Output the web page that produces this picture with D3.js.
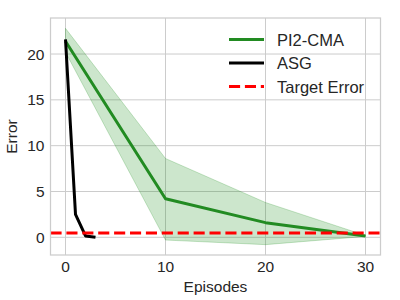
<!DOCTYPE html>
<html>
<head>
<meta charset="utf-8">
<script src="https://cdn.jsdelivr.net/npm/d3@7"></script>
<style>
  body { margin: 0; background: #fff; }
  text { font-family: "Liberation Sans", Arial, sans-serif; fill: #262626; }
</style>
</head>
<body>
<div id="chart"></div>
<script>
// PI2-CMA mean and spread
const cmaEpisodes = [0, 10, 20, 30];
const cmaMean = [21.4, 4.2, 1.6, 0.15];
const cmaUpper = [22.8, 8.6, 3.8, 0.2];
const cmaLower = [20.2, -0.3, -0.8, 0.1];

// ASG
const asgEpisodes = [0, 1, 2, 3];
const asgError = [21.6, 2.5, 0.15, 0.0];

const targetError = 0.47;

const xTicks = [0, 10, 20, 30];
const yTicks = [0, 5, 10, 15, 20];

const width = 400;
const height = 300;
const margin = { top: 18, right: 19.5, bottom: 45, left: 50.5 };

const svg = d3
  .select('#chart')
  .append('svg')
  .attr('width', width)
  .attr('height', height);

const x = d3.scaleLinear().domain([-1.5, 31.5]).range([margin.left, width - margin.right]);
const y = d3.scaleLinear().domain([-1.93, 23.93]).range([height - margin.bottom, margin.top]);

// grid
svg.append('g')
  .selectAll('line')
  .data(xTicks)
  .enter()
  .append('line')
  .attr('x1', (d) => x(d)).attr('x2', (d) => x(d))
  .attr('y1', y.range()[0]).attr('y2', y.range()[1])
  .style('stroke', '#cccccc').style('stroke-width', 1);

svg.append('g')
  .selectAll('line')
  .data(yTicks)
  .enter()
  .append('line')
  .attr('x1', x.range()[0]).attr('x2', x.range()[1])
  .attr('y1', (d) => y(d)).attr('y2', (d) => y(d))
  .style('stroke', '#cccccc').style('stroke-width', 1);

svg.append('clipPath').attr('id', 'plot')
  .append('rect')
  .attr('x', x.range()[0]).attr('y', y.range()[1])
  .attr('width', x.range()[1] - x.range()[0])
  .attr('height', y.range()[0] - y.range()[1]);

const plot = svg.append('g').attr('clip-path', 'url(#plot)');

// band
const band = cmaEpisodes.map((e, i) => ({ e, lo: cmaLower[i], hi: cmaUpper[i] }));
plot.append('path')
  .datum(band)
  .attr('d', d3.area().x((d) => x(d.e)).y0((d) => y(d.lo)).y1((d) => y(d.hi)))
  .style('fill', 'green').style('fill-opacity', 0.2)
  .style('stroke', 'green').style('stroke-opacity', 0.2);

const line = d3.line().x((d) => x(d[0])).y((d) => y(d[1]));

plot.append('path')
  .datum(cmaEpisodes.map((e, i) => [e, cmaMean[i]]))
  .attr('d', line)
  .style('fill', 'none').style('stroke', '#228b22').style('stroke-width', 3)
  .style('stroke-linejoin', 'round');

plot.append('path')
  .datum(asgEpisodes.map((e, i) => [e, asgError[i]]))
  .attr('d', line)
  .style('fill', 'none').style('stroke', '#000').style('stroke-width', 3)
  .style('stroke-linejoin', 'round');

plot.append('line')
  .attr('x1', x.range()[0]).attr('x2', x.range()[1])
  .attr('y1', y(targetError)).attr('y2', y(targetError))
  .style('stroke', 'red').style('stroke-width', 3)
  .style('stroke-dasharray', '11.1,4.8');

// frame
svg.append('rect')
  .attr('x', x.range()[0]).attr('y', y.range()[1])
  .attr('width', x.range()[1] - x.range()[0])
  .attr('height', y.range()[0] - y.range()[1])
  .style('fill', 'none').style('stroke', '#cccccc').style('stroke-width', 1.25);

// tick labels
svg.append('g')
  .selectAll('text')
  .data(xTicks)
  .enter()
  .append('text')
  .attr('x', (d) => x(d))
  .attr('y', 272)
  .attr('text-anchor', 'middle')
  .style('font-size', '15.5px')
  .text((d) => d);

svg.append('g')
  .selectAll('text')
  .data(yTicks)
  .enter()
  .append('text')
  .attr('x', 44.5)
  .attr('y', (d) => y(d) + 5.5)
  .attr('text-anchor', 'end')
  .style('font-size', '15.5px')
  .text((d) => d);

svg.append('text')
  .attr('x', (x.range()[0] + x.range()[1]) / 2)
  .attr('y', 292)
  .attr('text-anchor', 'middle')
  .style('font-size', '15.5px')
  .text('Episodes');

svg.append('text')
  .attr('transform', `translate(17,${(y.range()[0] + y.range()[1]) / 2}) rotate(-90)`)
  .attr('text-anchor', 'middle')
  .style('font-size', '15.5px')
  .text('Error');

// legend
const legendNames = ['PI2-CMA', 'ASG', 'Target Error'];
const legendColors = ['#228b22', '#000', 'red'];
const legendDash = [null, null, '11.1,4.8'];

const legend = svg.append('g')
  .selectAll('g')
  .data(legendNames)
  .enter()
  .append('g')
  .attr('transform', (d, i) => `translate(229,${39.5 + i * 23.5})`);

legend.append('line')
  .attr('x1', 0).attr('x2', 35)
  .style('stroke', (d, i) => legendColors[i])
  .style('stroke-width', 3)
  .style('stroke-dasharray', (d, i) => legendDash[i]);

legend.append('text')
  .attr('x', 48)
  .attr('y', 6)
  .style('font-size', '16.5px')
  .text((d) => d);
</script>
</body>
</html>
